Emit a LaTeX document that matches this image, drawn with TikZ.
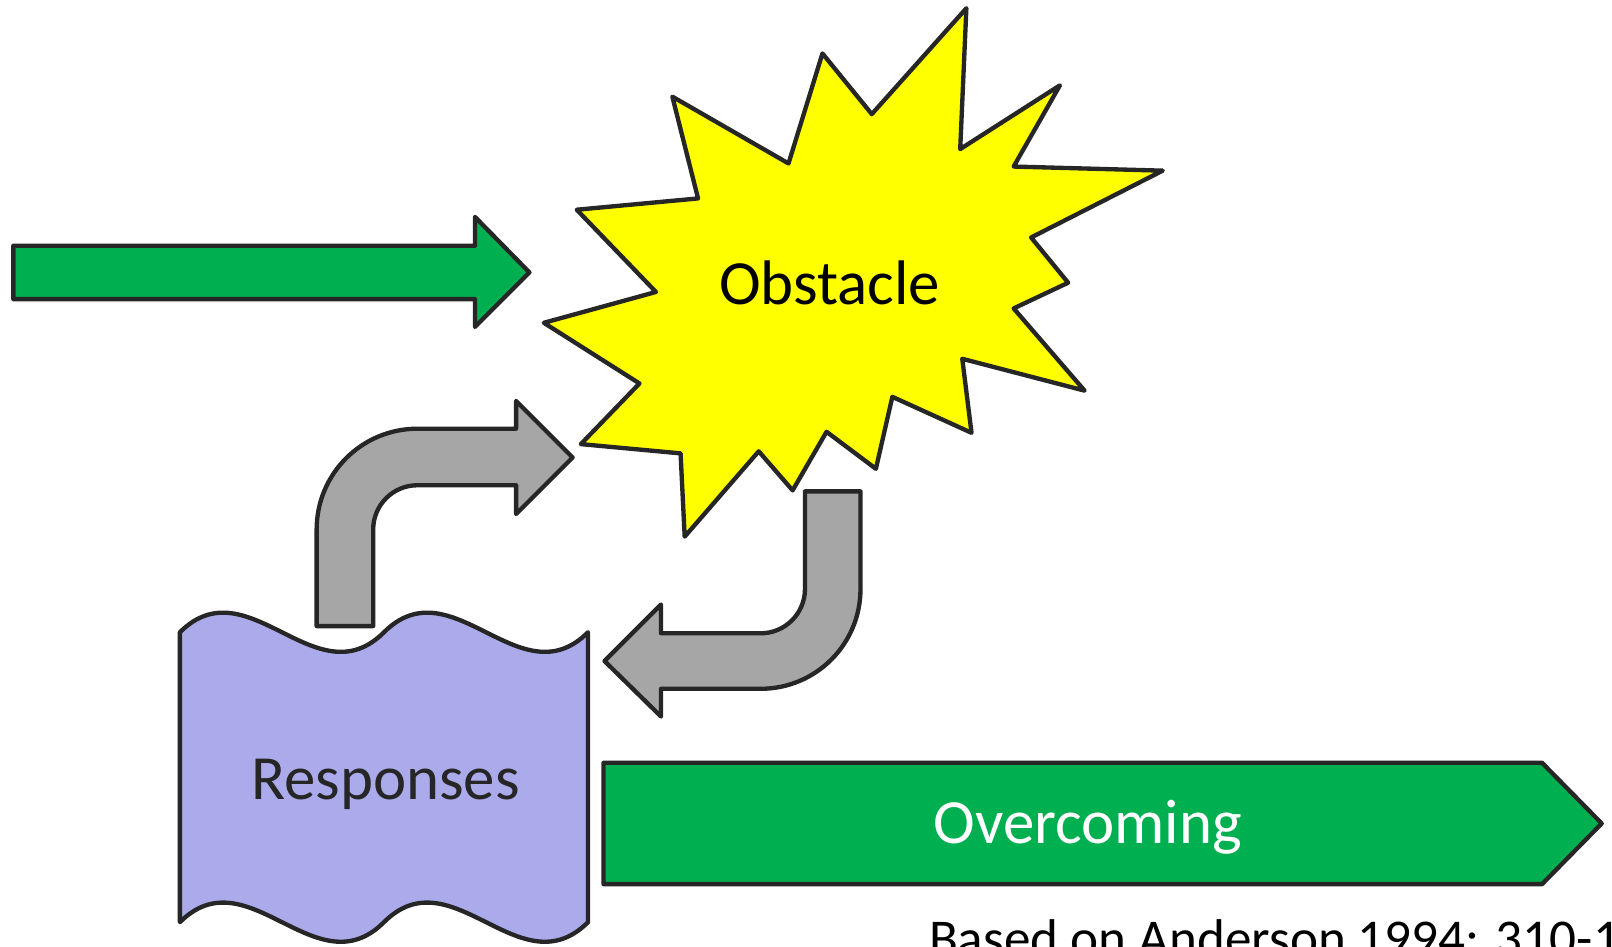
\documentclass[tikz,border=0pt]{standalone}
\usepackage{fontspec}
\setmainfont{Carlito}
\definecolor{strk}{HTML}{262626}
\definecolor{grn}{HTML}{00B050}
\definecolor{gry}{HTML}{A6A6A6}
\definecolor{lav}{HTML}{ABABEB}
\definecolor{ylw}{HTML}{FFFF00}
\tikzset{
  shapeline/.style={draw=strk, line width=1.2pt, line join=round},
  bigtext/.style={font=\fontsize{17.4}{20}\selectfont, inner sep=0pt},
}
\begin{document}
\begin{tikzpicture}[x=0.01cm,y=-0.01cm]
\useasboundingbox (0,0) rectangle (1568,921);
% incoming green arrow
\draw[shapeline, fill=grn] (13,239) -- (462,239) -- (462,211) -- (515,265) -- (462,318) -- (462,291) -- (13,291) -- cycle;
% obstacle star
\draw[shapeline, fill=ylw] (940,8) -- (934,145) -- (1031,83) -- (986,162) -- (1131,166) -- (1003,231) -- (1039,275) -- (986,300) -- (1055,380) -- (936,349) -- (945,421) -- (868,386) -- (852,456) -- (804,420) -- (771,477) -- (738,439) -- (666,522) -- (662,441) -- (565,432) -- (622,373) -- (529,314) -- (638,284) -- (561,204) -- (679,193) -- (654,94) -- (767,159) -- (800,52) -- (848,111) -- cycle;
\node[bigtext, anchor=base, text=black] (obst) at (807,296) {Obstacle};
% bent arrow up-right
\draw[shapeline, fill=gry] (308,609) -- (308,515) .. controls (308,460.9) and (351.9,417) .. (406,417) -- (502,417) -- (502,390) -- (557,445) -- (502,500) -- (502,472) -- (406,472) .. controls (382.3,472) and (363,491.3) .. (363,515) -- (363,609) -- cycle;
% bent arrow down-left
\draw[shapeline, fill=gry] (783,478) -- (837,478) -- (837,573) .. controls (837,626.6) and (793.6,670) .. (740,670) -- (643,670) -- (643,697) -- (588,643) -- (643,588) -- (643,616) -- (740,616) .. controls (763.7,616) and (783,596.7) .. (783,573) -- cycle;
% responses wave
\draw[shapeline, fill=lav] (175,615) .. controls (241.2,549) and (307.3,681) .. (373.5,615)
  .. controls (439.7,549) and (505.8,681) .. (572,615)
  -- (572,897) .. controls (505.8,963) and (439.7,831) .. (373.5,897)
  .. controls (307.3,963) and (241.2,831) .. (175,897) -- cycle;
\node[bigtext, anchor=base, text=strk] (resp) at (375,778) {Responses};
% overcoming arrow
\draw[shapeline, fill=grn] (587,742) -- (1500,742) -- (1558,801) -- (1500,860) -- (587,860) -- cycle;
\node[bigtext, anchor=base, text=white] (over) at (1058,820) {Overcoming};
% source
\node[font=\fontsize{14.7}{17}\selectfont, anchor=base west, inner sep=0pt, text=black] (src) at (903,930) {Based on Anderson 1994: 310-1};
\end{tikzpicture}
\end{document}
